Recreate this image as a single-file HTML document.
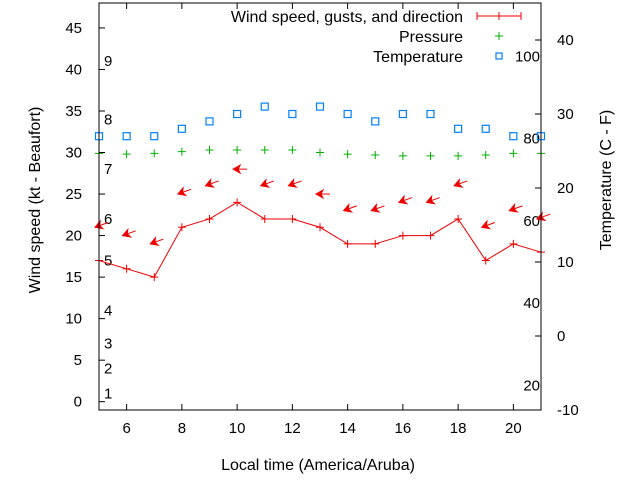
<!DOCTYPE html>
<html><head><meta charset="utf-8"><style>
body{margin:0;background:#fff;}
svg{display:block;font-family:"Liberation Sans",sans-serif;}
</style></head><body>
<svg id="chart" width="640" height="480" xmlns="http://www.w3.org/2000/svg">
<rect x="0" y="0" width="640" height="480" fill="#fff"/>
<g id="grid"></g>
<g id="marks"></g>
<rect x="99" y="3" width="442" height="407" fill="none" stroke="#000" stroke-width="1"/>
<text x="318" y="470" font-size="16" text-anchor="middle">Local time (America/Aruba)</text>
<text transform="translate(40,200) rotate(-90)" font-size="16" text-anchor="middle">Wind speed (kt - Beaufort)</text>
<text transform="translate(611,180) rotate(-90)" font-size="16" text-anchor="middle">Temperature (C - F)</text>
<g font-size="16" text-anchor="end">
<text x="463" y="22">Wind speed, gusts, and direction</text>
<line x1="477" y1="16" x2="521" y2="16" stroke="#e00" stroke-width="1"/>
<line x1="477" y1="12" x2="477" y2="20" stroke="#e00"/><line x1="521" y1="12" x2="521" y2="20" stroke="#e00"/><line x1="499" y1="12" x2="499" y2="20" stroke="#e00"/>
<text x="463" y="42">Pressure</text>
<path d="M495 36h8M499 32v8" stroke="#00b000"/>
<text x="463" y="62">Temperature</text>
<rect x="496" y="53" width="6" height="6" fill="none" stroke="#0080ff" stroke-width="1.2"/>
</g>
</svg>
<script>
const hours=[5,6,7,8,9,10,11,12,13,14,15,16,17,18,19,20,21];
const windSpeed=[17,16,15,21,22,24,22,22,21,19,19,20,20,22,17,19,18];
const gusts=[21,20,19,25,26,28,26,26,25,23,23,24,24,26,21,23,22];
const windDirDeg=[70,70,70,70,70,90,70,70,90,70,70,70,70,70,70,70,70];
const pressure=[29.9,29.8,29.9,30.1,30.3,30.3,30.3,30.3,30.0,29.8,29.7,29.6,29.6,29.6,29.7,29.9,29.9];
const temperature=[27,27,27,28,29,30,31,30,31,30,29,30,30,28,28,27,27];
const xTicks=[6,8,10,12,14,16,18,20];
const yTicks=[0,5,10,15,20,25,30,35,40,45];
const y2Ticks=[-10,0,10,20,30,40];
const beaufortLabels=["1","2","3","4","5","6","7","8","9"];
const beaufortKt=[1,4,7,11,17,22,28,34,41];
const fahrLabels=["20","40","60","80","100"];
const fahrVals=[20,40,60,80,100];
const NS="http://www.w3.org/2000/svg";
const X=v=>99+(v-5)/16*442;
const Y=v=>410-(v+1)/49*407;
const Y2=v=>410-(v+10)/55*407;
const grid=document.getElementById('grid'),marks=document.getElementById('marks');
function mk(tag,attrs,parent){const e=document.createElementNS(NS,tag);for(const k in attrs)e.setAttribute(k,attrs[k]);parent.appendChild(e);return e;}
xTicks.forEach(t=>{
 mk('line',{x1:X(t),x2:X(t),y1:410,y2:404,stroke:'#000'},grid);
 mk('line',{x1:X(t),x2:X(t),y1:3,y2:9,stroke:'#000'},grid);
 const tx=mk('text',{x:X(t),y:433,'font-size':15,'text-anchor':'middle'},grid);tx.textContent=t;
 
 
});
yTicks.forEach(t=>{
 mk('line',{x1:99,x2:105,y1:Y(t),y2:Y(t),stroke:'#000'},grid);
 const tx=mk('text',{x:82,y:Y(t)+5,'font-size':15,'text-anchor':'end'},grid);tx.textContent=t;
 
 
});
y2Ticks.forEach(t=>{
 mk('line',{x1:541,x2:535,y1:Y2(t),y2:Y2(t),stroke:'#000'},grid);
 const tx=mk('text',{x:557,y:Y2(t)+5,'font-size':15},grid);tx.textContent=t;
 
 
});
beaufortLabels.forEach((l,i)=>{
 const tx=mk('text',{x:104,y:Y(beaufortKt[i])+5,'font-size':15},grid);tx.textContent=l;
 
 
});
fahrVals.forEach((f,i)=>{
 const c=(f-32)*5/9;
 const tx=mk('text',{x:540,y:Y2(c)+5,'font-size':15,'text-anchor':'end'},grid);tx.textContent=fahrLabels[i];
 
 
});
const pl=mk('polyline',{points:hours.map((h,i)=>X(h)+','+Y(windSpeed[i])).join(' '),fill:'none',stroke:'#e00'},marks);


hours.forEach((h,i)=>{
 const x=X(h),y=Y(windSpeed[i]);
 const p=mk('path',{d:`M${x-4} ${y}h8M${x} ${y-4}v8`,stroke:'#e00'},marks);
 
 
 const gx=X(h)-4,gy=Y(gusts[i]);const a=windDirDeg[i]*Math.PI/180;
 const ux=Math.sin(a),uy=-Math.cos(a);
 const g=mk('g',{},marks);
 
 
 mk('line',{x1:gx,y1:gy,x2:gx+14*ux,y2:gy+14*uy,stroke:'#e00'},g);
 const px=-uy,py=ux;
 mk('polygon',{points:`${gx},${gy} ${gx+7*ux+4*px},${gy+7*uy+4*py} ${gx+5*ux},${gy+5*uy} ${gx+7*ux-4*px},${gy+7*uy-4*py}`,fill:'#e00',stroke:'#e00','stroke-width':1},g);
 const py2=Y(pressure[i]);
 const pp=mk('path',{d:`M${x-4} ${py2}h8M${x} ${py2-4}v8`,stroke:'#00b000'},marks);
 
 
 const ty2=Y2(temperature[i]);
 const r=mk('rect',{x:x-3.5,y:ty2-3.5,width:7,height:7,fill:'none',stroke:'#0080ff','stroke-width':1.2},marks);
 
 
});
</script>
</body></html>
